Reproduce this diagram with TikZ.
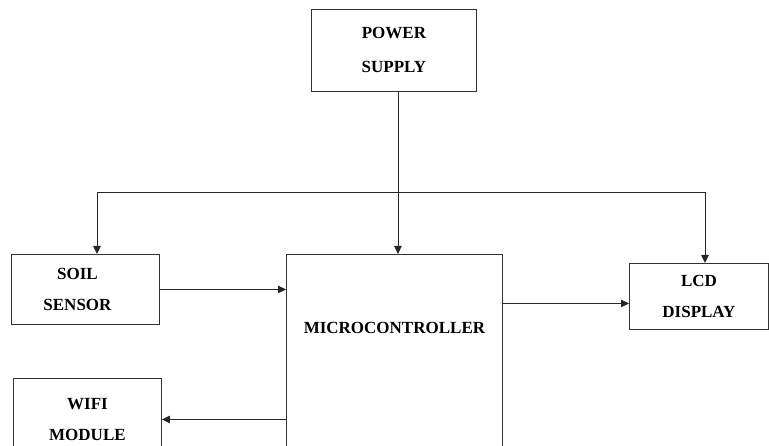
\documentclass[tikz,border=0pt]{standalone}
\usepackage{fontspec}
\setmainfont{Liberation Serif}
\usepackage{tikz}
\usetikzlibrary{positioning,arrows.meta}

\begin{document}
\begin{tikzpicture}[
    x=1pt, y=-1pt,
    block/.style={draw=black!80, line width=0.9pt, anchor=north west, inner sep=0pt,
      align=center, font=\fontsize{17}{31}\selectfont\bfseries},
    link/.style={draw=black!85, line width=0.9pt, -{Triangle[length=8pt,width=7.5pt]}}
  ]
    \useasboundingbox (0,0) rectangle (769,446);

    \node[block, minimum width=165pt, minimum height=82pt] (power) at (311,9) {POWER\\[3pt]SUPPLY};
    \node[block, minimum width=148pt, minimum height=70pt] (soil) at (11,254) {SOIL\hspace*{16pt}\\SENSOR\hspace*{16pt}};
    \node[block, minimum width=216pt, minimum height=220pt,
      label={[anchor=center, yshift=-74pt, font=\fontsize{17}{31}\selectfont\bfseries]north:MICROCONTROLLER}] (mcu) at (286,254) {};
    \node[block, minimum width=139pt, minimum height=66pt] (lcd) at (629,263) {LCD\\DISPLAY};
    \node[block, minimum width=148pt, minimum height=82pt] (wifi) at (13,378) {WIFI\\MODULE};

    % supply bus
    \coordinate (busL) at (97,192);
    \coordinate (busR) at (705,192);
    \coordinate (pwrout) at ([xshift=4pt]power.south);
    \coordinate (lcdin) at ([yshift=-7pt]lcd.west);

    \draw[link] (pwrout) -- (pwrout |- mcu.north);
    \draw[draw=black!85, line width=0.9pt] (busL) -- (busR);
    \draw[link] (busL) -- (busL |- soil.north);
    \draw[link] (busR) -- (busR |- lcd.north);

    \draw[link] (soil.east) -- (soil.east -| mcu.west);
    \draw[link] (mcu.east |- lcdin) -- (lcdin);
    \draw[link] (mcu.west |- wifi.east) -- (wifi.east);
  \end{tikzpicture}
\end{document}
